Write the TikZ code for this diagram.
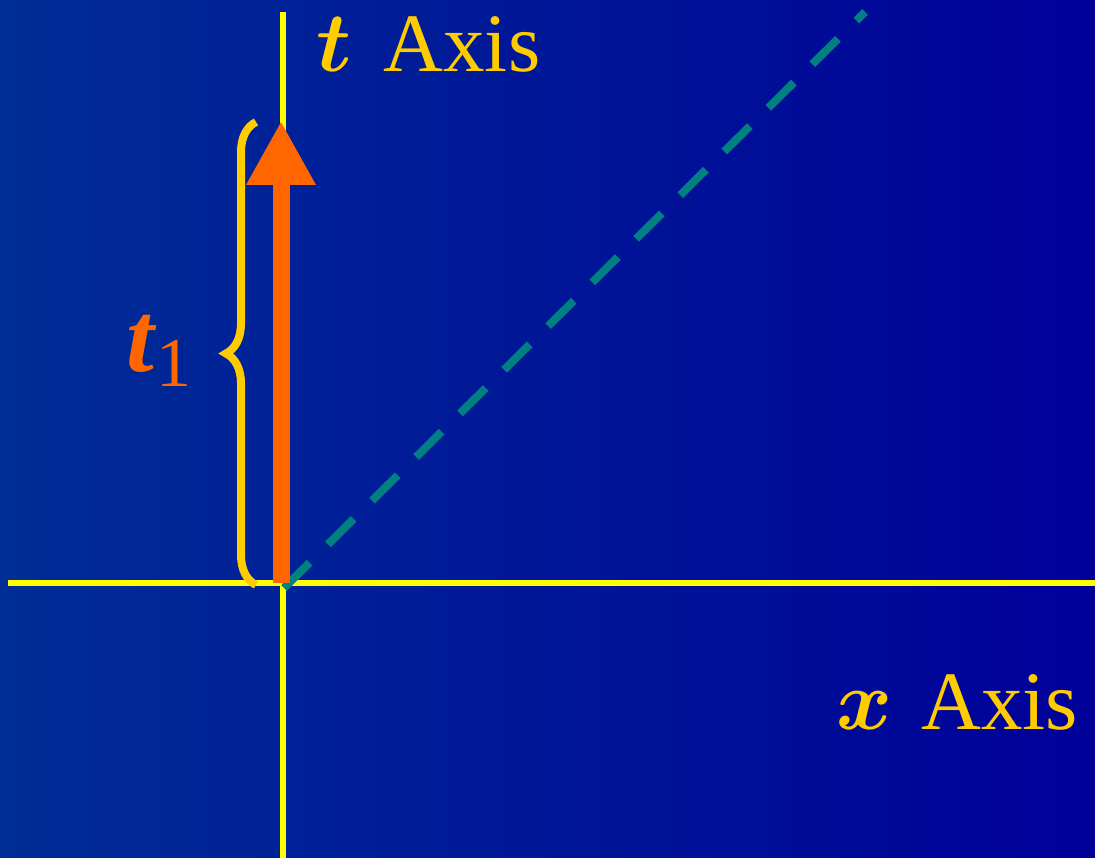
\documentclass[tikz,border=0pt]{standalone}
\usepackage{graphicx}
\usepackage{fontspec}
\setmainfont{Liberation Serif}
\usetikzlibrary{arrows.meta,decorations.pathreplacing}
\definecolor{bgleft}{RGB}{0,45,150}
\definecolor{bgright}{RGB}{0,0,153}
\definecolor{axisyellow}{RGB}{255,255,0}
\definecolor{labelgold}{RGB}{255,204,0}
\definecolor{arroworange}{RGB}{255,102,0}
\definecolor{tealdash}{RGB}{0,128,128}
\newcommand{\bigmath}[1]{\scalebox{8.5}{\normalsize\boldmath$#1$}}
\tikzset{
  axisline/.style={draw=axisyellow, line width=6pt},
  lightline/.style={draw=tealdash, line width=8pt, dash pattern=on 36pt off 26pt},
  bigarrow/.style={draw=arroworange, line width=17pt, -{Triangle[width=65pt,length=64pt]}},
  bracestyle/.style={draw=labelgold, line width=8pt, decorate, decoration={brace, amplitude=30pt}},
  axislabel/.style={text=labelgold, inner sep=0pt, anchor=base west, font=\fontsize{83}{83}\selectfont},
}
\begin{document}
\begin{tikzpicture}[x=1pt,y=1pt]
  \shade[left color=bgleft, right color=bgright] (0,0) rectangle (1095,858);
  \useasboundingbox (0,0) rectangle (1095,858);
  \coordinate (origin) at (283,275);
  \coordinate (ttop) at (283,846);
  \coordinate (tbot) at (283,0);
  \coordinate (xleft) at (8,275);
  \coordinate (xright) at (1095,275);
  \coordinate (lstart) at (284,270);
  \coordinate (lend) at (865,846);
  \coordinate (astart) at (281,275);
  \coordinate (aend) at (281,737);
  \coordinate (bbot) at (256,273);
  \coordinate (btop) at (256,736);
  \draw[axisline] (tbot) -- (ttop);
  \draw[axisline] (xleft) -- (xright);
  \draw[lightline] (lstart) -- (lend);
  \draw[bigarrow] (astart) -- (aend);
  \draw[bracestyle] (bbot) -- (btop);
  \node[axislabel] (tlabel) at (316,786) {\bigmath{t}\hspace{32pt}Axis};
  \node[axislabel] (xlabel) at (836,128) {\bigmath{x}\hspace{29pt}Axis};
  \node[text=arroworange, inner sep=0pt, anchor=base west] (t1) at (126,486)
    {\fontsize{100}{100}\selectfont\textbf{\textit{t}}\raisebox{-15pt}{\fontsize{70}{70}\selectfont 1}};
\end{tikzpicture}
\end{document}
